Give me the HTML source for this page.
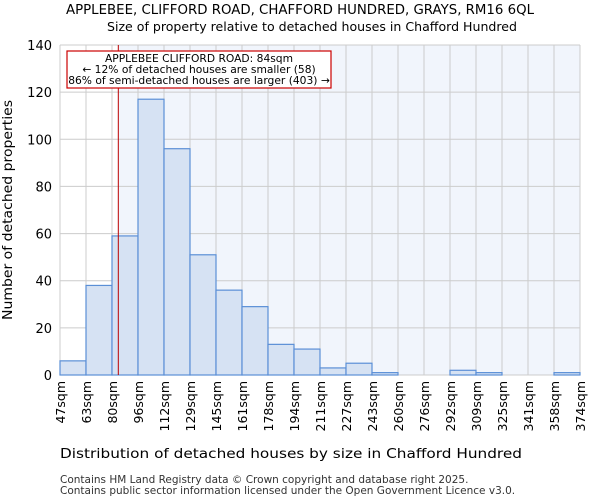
<!DOCTYPE html>
<html><head><meta charset="utf-8"><style>
body{margin:0;background:#fff;font-family:"DejaVu Sans","Liberation Sans",sans-serif}
</style></head><body>
<svg id="c" width="600" height="500" xmlns="http://www.w3.org/2000/svg" font-family="DejaVu Sans, Liberation Sans, sans-serif">
<text x="300" y="14" text-anchor="middle" font-size="13" textLength="468" lengthAdjust="spacingAndGlyphs">APPLEBEE, CLIFFORD ROAD, CHAFFORD HUNDRED, GRAYS, RM16 6QL</text>
<text x="312" y="31" text-anchor="middle" font-size="12.5" textLength="410" lengthAdjust="spacingAndGlyphs">Size of property relative to detached houses in Chafford Hundred</text>
<g id="plot"></g>
<text x="291" y="458" text-anchor="middle" font-size="13" textLength="462" lengthAdjust="spacingAndGlyphs">Distribution of detached houses by size in Chafford Hundred</text>
<text transform="translate(12,210) rotate(-90)" text-anchor="middle" font-size="13" textLength="220" lengthAdjust="spacingAndGlyphs">Number of detached properties</text>
<text x="60" y="483" font-size="10.5" fill="#333">Contains HM Land Registry data © Crown copyright and database right 2025.</text>
<text x="60" y="494" font-size="10.5" fill="#333">Contains public sector information licensed under the Open Government Licence v3.0.</text>
</svg>
<script>
const binLabels=["47sqm","63sqm","80sqm","96sqm","112sqm","129sqm","145sqm","161sqm","178sqm","194sqm","211sqm","227sqm","243sqm","260sqm","276sqm","292sqm","309sqm","325sqm","341sqm","358sqm","374sqm"];
const counts=[6,38,59,117,96,51,36,29,13,11,3,5,1,0,0,2,1,0,0,1];
const yTicks=[0,20,40,60,80,100,120,140];
const markerBin=2+4/16.5;
const NS="http://www.w3.org/2000/svg";
const L=60,R=580,T=45,B=375,yMax=140;
const bw=(R-L)/counts.length;
const xs=i=>L+i*bw, ys=v=>B-(v/yMax)*(B-T);
const g=document.getElementById('plot');
function mk(t,a){const e=document.createElementNS(NS,t);for(const k in a)e.setAttribute(k,a[k]);g.appendChild(e);return e;}
const mx=xs(markerBin);
let e=mk('rect',{x:L,y:T,width:R-L,height:B-T,fill:'#fff'});

e=mk('rect',{x:mx,y:T,width:R-mx,height:B-T,fill:'#f1f5fc'});

for(let i=0;i<=counts.length;i++){e=mk('line',{x1:xs(i),x2:xs(i),y1:T,y2:B,stroke:'#ccc','stroke-width':1});
}
yTicks.forEach(v=>{e=mk('line',{x1:L,x2:R,y1:ys(v),y2:ys(v),stroke:'#ccc','stroke-width':1});

e=mk('text',{x:L-8,y:ys(v)+5,'text-anchor':'end','font-size':13});e.textContent=v;
});
counts.forEach((v,i)=>{e=mk('rect',{x:xs(i),y:ys(v),width:bw,height:B-ys(v),fill:'#d6e2f3',stroke:'#5b8fd6','stroke-width':1.2});
});
binLabels.forEach((s,i)=>{e=mk('text',{transform:`translate(${xs(i)+5},381) rotate(-90)`,'text-anchor':'end','font-size':12.5});e.textContent=s;
});
e=mk('line',{x1:mx,x2:mx,y1:T,y2:B,stroke:'#b00','stroke-width':1});

e=mk('rect',{x:67,y:51,width:264,height:37,fill:'#fff',stroke:'#c00','stroke-width':1.2});

["APPLEBEE CLIFFORD ROAD: 84sqm","← 12% of detached houses are smaller (58)","86% of semi-detached houses are larger (403) →"].forEach((s,i)=>{
e=mk('text',{x:199,y:62+i*11,'text-anchor':'middle','font-size':10.7});e.textContent=s;
});
</script>
</body></html>
